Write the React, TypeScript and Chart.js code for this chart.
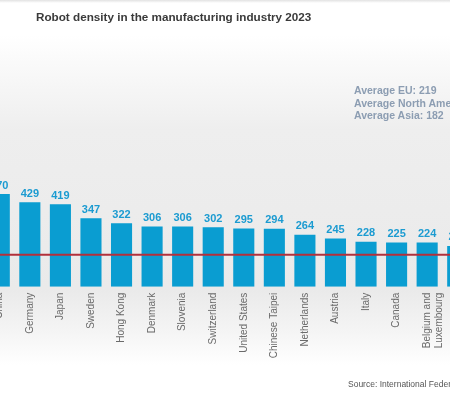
import React, { useEffect, useRef } from 'react';
import { Chart, registerables } from 'chart.js';

Chart.register(...registerables);

const categories: (string | string[])[] = [
  'China', 'Germany', 'Japan', 'Sweden', 'Hong Kong', 'Denmark', 'Slovenia', 'Switzerland',
  'United States', 'Chinese Taipei', 'Netherlands', 'Austria', 'Italy', 'Canada',
  ['Belgium and', 'Luxembourg'], 'France',
];
const densities = [470, 429, 419, 347, 322, 306, 306, 302, 295, 294, 264, 245, 228, 225, 224, 207];
const worldAverage = 162;
const averageNotes = ['Average EU: 219', 'Average North America: 197', 'Average Asia: 182'];
const titleText = 'Robot density in the manufacturing industry 2023';
const sourceText = 'Source: International Federation of Robotics';
const yMax = 1100;

const valueLabelPlugin = {
  id: 'valueLabels',
  afterDatasetsDraw(chart: any) {
    const ctx = chart.ctx;
    const meta = chart.getDatasetMeta(0);
    ctx.save();
    ctx.font = 'bold 11px Arial, "Liberation Sans", sans-serif';
    ctx.fillStyle = '#1b9bd1';
    ctx.textAlign = 'center';
    ctx.textBaseline = 'bottom';
    meta.data.forEach((bar: any, i: number) => {
      ctx.fillText(String(densities[i]), bar.x, bar.y - 3);
    });
    ctx.restore();
  },
};

const averageLinePlugin = {
  id: 'averageLine',
  afterDatasetsDraw(chart: any) {
    const ctx = chart.ctx;
    const y = chart.scales.y.getPixelForValue(worldAverage);
    ctx.save();
    ctx.strokeStyle = '#b3303b';
    ctx.lineWidth = 2;
    ctx.beginPath();
    ctx.moveTo(0, y);
    ctx.lineTo(chart.width, y);
    ctx.stroke();
    ctx.restore();
  },
};

export default function App() {
  const canvasRef = useRef<HTMLCanvasElement | null>(null);

  useEffect(() => {
    if (!canvasRef.current) return;
    const chart = new Chart(canvasRef.current, {
      type: 'bar',
      data: {
        labels: categories as any,
        datasets: [
          {
            data: densities,
            backgroundColor: '#0a9dd1',
            barPercentage: 0.69,
            categoryPercentage: 1,
          },
        ],
      },
      options: {
        animation: false,
        responsive: false,
        devicePixelRatio: 1,
        layout: { padding: { top: 70, left: 0, right: 0, bottom: 0 } },
        plugins: {
          legend: { display: false },
          tooltip: { enabled: false },
          title: { display: false },
        },
        scales: {
          x: {
            grid: { display: false, drawTicks: false, tickLength: 0 },
            border: { display: false },
            ticks: {
              autoSkip: false,
              minRotation: 90,
              maxRotation: 90,
              padding: 6,
              color: '#6a6a6a',
              font: { family: 'Arial, "Liberation Sans", sans-serif', size: 10 },
            },
            afterFit(scale: any) {
              scale.height = 108.3;
              scale.paddingLeft = 0;
              scale.paddingRight = 0;
            },
          },
          y: {
            display: false,
            min: 0,
            max: yMax,
          },
        },
      },
      plugins: [averageLinePlugin, valueLabelPlugin],
    });
    return () => chart.destroy();
  }, []);

  return (
    <div
      style={{
        position: 'fixed',
        left: 0,
        top: 0,
        width: 450,
        height: 395,
        overflow: 'hidden',
        background:
          'linear-gradient(to bottom, #e2e2e2 0px, #ffffff 3px, #ffffff 35px, #eeeeee 130px, #eaeaea 290px, #f4f4f4 330px, #ffffff 365px, #ffffff 395px)',
        fontFamily: 'Arial, "Liberation Sans", sans-serif',
      }}
    >
      <canvas
        ref={canvasRef}
        width={489}
        height={395}
        style={{ position: 'absolute', left: -16, top: 0, width: 489, height: 395 }}
      />
      <div
        style={{
          position: 'absolute',
          left: 36,
          top: 10,
          fontSize: 11.7,
          fontWeight: 'bold',
          color: '#3a3a3a',
          whiteSpace: 'nowrap',
        }}
      >
        {titleText}
      </div>
      <div
        style={{
          position: 'absolute',
          left: 354,
          top: 84,
          fontSize: 10.5,
          fontWeight: 'bold',
          color: '#8c9db2',
          lineHeight: '12.5px',
          whiteSpace: 'nowrap',
        }}
      >
        {averageNotes.map((t) => (
          <div key={t}>{t}</div>
        ))}
      </div>
      <div
        style={{
          position: 'absolute',
          left: 348,
          top: 379,
          fontSize: 8.5,
          color: '#555555',
          whiteSpace: 'nowrap',
        }}
      >
        {sourceText}
      </div>
    </div>
  );
}
